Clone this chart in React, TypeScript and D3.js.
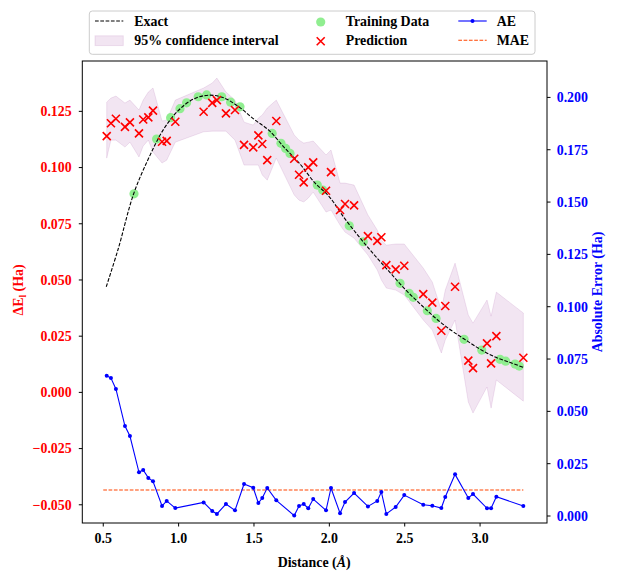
import React from "react";
import * as d3 from "d3";

// prediction grid (Å)
const distance = [
    0.523, 0.551, 0.584, 0.644, 0.677, 0.737, 0.765, 0.799, 0.830, 0.890,
    0.921, 0.978, 1.166, 1.223, 1.254, 1.314, 1.374, 1.434, 1.495, 1.529,
    1.555, 1.588, 1.648, 1.767, 1.799, 1.830, 1.860, 1.893, 1.978, 2.011,
    2.071, 2.104, 2.164, 2.256, 2.318, 2.345, 2.378, 2.440, 2.497, 2.623,
    2.683, 2.743, 2.769, 2.834, 2.922, 2.953, 3.046, 3.073, 3.108, 3.287
];

const prediction = [
    0.1140, 0.1197, 0.1217, 0.1181, 0.1201, 0.1152, 0.1214, 0.1223, 0.1253, 0.1115,
    0.1119, 0.1204, 0.1248, 0.1288, 0.1300, 0.1241, 0.1256, 0.1101, 0.1090, 0.1143,
    0.1105, 0.1033, 0.1207, 0.1039, 0.0968, 0.0934, 0.1001, 0.1023, 0.0897, 0.0980,
    0.0811, 0.0838, 0.0832, 0.0695, 0.0674, 0.0690, 0.0566, 0.0547, 0.0563, 0.0437,
    0.0399, 0.0274, 0.0384, 0.0470, 0.0141, 0.0108, 0.0218, 0.0129, 0.0250, 0.0154
];

const ciUpper = [
    0.1291, 0.1309, 0.1318, 0.1287, 0.1300, 0.1256, 0.1300, 0.1336, 0.1354, 0.1207,
    0.1211, 0.1300, 0.1354, 0.1376, 0.1398, 0.1336, 0.1300, 0.1202, 0.1189, 0.1220,
    0.1234, 0.1265, 0.1300, 0.1145, 0.1122, 0.1109, 0.1113, 0.1118, 0.1056, 0.1078,
    0.0931, 0.0931, 0.0922, 0.0789, 0.0722, 0.0677, 0.0655, 0.0660, 0.0660, 0.0553,
    0.0491, 0.0366, 0.0455, 0.0575, 0.0344, 0.0308, 0.0411, 0.0339, 0.0446, 0.0353
];

const ciLower = [
    0.1042, 0.1122, 0.1122, 0.1091, 0.1113, 0.1047, 0.1096, 0.1122, 0.1069, 0.1020,
    0.1033, 0.1113, 0.1159, 0.1162, 0.1162, 0.1162, 0.1122, 0.1011, 0.1011, 0.1011,
    0.0967, 0.0944, 0.1042, 0.0878, 0.0855, 0.0847, 0.0864, 0.0891, 0.0802, 0.0811,
    0.0744, 0.0713, 0.0686, 0.0611, 0.0544, 0.0500, 0.0464, 0.0455, 0.0433, 0.0322,
    0.0277, 0.0175, 0.0233, 0.0322, -0.0043, -0.0092, 0.0024, -0.0070, 0.0055, -0.0039
];

const absError = [
    0.0670, 0.0659, 0.0607, 0.0430, 0.0382, 0.0209, 0.0220, 0.0182, 0.0166, 0.0048,
    0.0072, 0.0038, 0.0065, 0.0024, 0.0010, 0.0057, 0.0027, 0.0153, 0.0135, 0.0062,
    0.0086, 0.0134, 0.0075, 0.0002, 0.0048, 0.0057, 0.0037, 0.0081, 0.0027, 0.0134,
    0.0013, 0.0067, 0.0110, 0.0046, 0.0072, 0.0115, 0.0010, 0.0043, 0.0100, 0.0054,
    0.0049, 0.0038, 0.0091, 0.0199, 0.0086, 0.0105, 0.0037, 0.0037, 0.0092, 0.0048
];

const trainX = [
    0.704, 0.854, 0.947, 1.009, 1.053, 1.130, 1.186, 1.286, 1.345, 1.407,
    1.621, 1.679, 1.710, 1.739, 1.920, 1.956, 2.132, 2.225, 2.469, 2.530,
    2.557, 2.650, 2.708, 2.894, 3.011, 3.132, 3.170, 3.232, 3.260
];
const trainY = [
    0.0883, 0.1127, 0.1222, 0.1262, 0.1288, 0.1315, 0.1323, 0.1315, 0.1291, 0.1270,
    0.1152, 0.1108, 0.1085, 0.1063, 0.0922, 0.0900, 0.0741, 0.0670, 0.0485, 0.0440,
    0.0423, 0.0363, 0.0329, 0.0236, 0.0188, 0.0147, 0.0139, 0.0126, 0.0117
];

const exactX = [
    0.52, 0.60, 0.70, 0.80, 0.90, 1.00, 1.10, 1.20, 1.30, 1.40, 1.50, 1.60, 1.70, 1.80, 1.90,
    2.00, 2.10, 2.20, 2.30, 2.40, 2.50, 2.60, 2.70, 2.80, 2.90, 3.00, 3.10, 3.20, 3.29
];
const exactY = [
    0.0470, 0.0640, 0.0880, 0.1040, 0.1170, 0.1255, 0.1305, 0.1322, 0.1310, 0.1270, 0.1215,
    0.1165, 0.1090, 0.1020, 0.0935, 0.0870, 0.0775, 0.0690, 0.0610, 0.0535, 0.0460, 0.0395,
    0.0333, 0.0280, 0.0235, 0.0192, 0.0157, 0.0133, 0.0110
];

const mae = 0.0124;
const maeSpan = [0.5, 3.287];

const xTicks = [0.5, 1.0, 1.5, 2.0, 2.5, 3.0];
const leftTicks = [-0.05, -0.025, 0, 0.025, 0.05, 0.075, 0.1, 0.125];
const rightTicks = [0, 0.025, 0.05, 0.075, 0.1, 0.125, 0.15, 0.175, 0.2];

const W = 617;
const H = 581;
const box = { left: 82.3, right: 547, top: 61, bottom: 523 };
const FONT = "'Liberation Serif', 'Times New Roman', serif";
const FS = 13.9;

const x = d3.scaleLinear().domain([0.361, 3.444]).range([box.left, box.right]);
const yL = d3.scaleLinear().domain([-0.0581, 0.1474]).range([box.bottom, box.top]);
const yR = d3.scaleLinear().domain([-0.00334, 0.2174]).range([box.bottom, box.top]);

const fmt1 = d3.format(".1f");
const fmt3 = d3.format(".3f");

const crossPath = (s: number) => `M${-s},${-s}L${s},${s}M${-s},${s}L${s},${-s}`;

export default function App() {
    const idx = distance.map((_, i) => i);

    const band = d3.area<number>()
        .x(i => x(distance[i]))
        .y0(i => yL(ciLower[i]))
        .y1(i => yL(ciUpper[i]))(idx) as string;

    const exactLine = d3.line<number>()
        .x(i => x(exactX[i]))
        .y(i => yL(exactY[i]))
        .curve(d3.curveCatmullRom)(exactX.map((_, i) => i)) as string;

    const aeLine = d3.line<number>()
        .x(i => x(distance[i]))
        .y(i => yR(absError[i]))(idx) as string;

    return (
        <svg width={W} height={H} style={{ position: "absolute", left: 0, top: 0, background: "#fff" }}
            fontFamily={FONT} fontWeight="bold" fontSize={FS}>
            <defs>
                <clipPath id="plot-clip">
                    <rect x={box.left} y={box.top} width={box.right - box.left} height={box.bottom - box.top} />
                </clipPath>
            </defs>

            <g clipPath="url(#plot-clip)">
                <path d={band} fill="purple" fillOpacity={0.1} stroke="purple" strokeOpacity={0.1} strokeWidth={1} />
                {trainX.map((d, i) => (
                    <circle key={"t" + i} cx={x(d)} cy={yL(trainY[i])} r={4.6} fill="#90ee90" />
                ))}
                <path d={exactLine} fill="none" stroke="#000" strokeWidth={1.1} strokeDasharray="3.7,1.6" />
                {distance.map((d, i) => (
                    <path key={"p" + i} d={crossPath(4)} transform={`translate(${x(d)},${yL(prediction[i])})`}
                        stroke="red" strokeWidth={1.6} fill="none" />
                ))}
                <line x1={x(maeSpan[0])} x2={x(maeSpan[1])} y1={yR(mae)} y2={yR(mae)}
                    stroke="orangered" strokeWidth={1.1} strokeDasharray="3.7,1.6" />
                <path d={aeLine} fill="none" stroke="blue" strokeWidth={1.1} />
                {distance.map((d, i) => (
                    <circle key={"a" + i} cx={x(d)} cy={yR(absError[i])} r={2} fill="blue" />
                ))}
            </g>

            <rect x={box.left} y={box.top} width={box.right - box.left} height={box.bottom - box.top}
                fill="none" stroke="#000" strokeWidth={1} />

            {/* bottom axis */}
            {xTicks.map(t => (
                <g key={"xt" + t} transform={`translate(${x(t)},${box.bottom})`}>
                    <line y2={3.5} stroke="#000" />
                    <text y={15.3} dy="0.35em" textAnchor="middle" fill="#000">{fmt1(t)}</text>
                </g>
            ))}
            <text x={(box.left + box.right) / 2 - 0.5} y={561.7} dy="0.35em" textAnchor="middle" fill="#000">
                Distance (<tspan fontStyle="italic">Å</tspan>)
            </text>

            {/* left axis */}
            {leftTicks.map(t => (
                <g key={"yl" + t} transform={`translate(${box.left},${yL(t)})`}>
                    <line x2={-3.5} stroke="#000" />
                    <text x={-10.6} dy="0.35em" textAnchor="end" fill="red">{fmt3(t)}</text>
                </g>
            ))}
            <text transform={`translate(18,290) rotate(-90)`} dy="0.35em" textAnchor="middle" fill="red">
                ΔE<tspan fontSize={FS * 0.7} dy="3">l</tspan><tspan dy="-3"> (Ha)</tspan>
            </text>

            {/* right axis */}
            {rightTicks.map(t => (
                <g key={"yr" + t} transform={`translate(${box.right},${yR(t)})`}>
                    <line x2={3.5} stroke="#000" />
                    <text x={9.7} dy="0.35em" textAnchor="start" fill="blue">{fmt3(t)}</text>
                </g>
            ))}
            <text transform={`translate(596.7,292) rotate(-90)`} dy="0.35em" textAnchor="middle" fill="blue">
                Absolute Error (Ha)
            </text>

            {/* legend */}
            <g>
                <rect x={89.3} y={11} width={445.7} height={43.3} rx={3} fill="#fff" fillOpacity={0.8}
                    stroke="#cccccc" strokeWidth={1} />
                <line x1={95} x2={123.3} y1={21} y2={21} stroke="#000" strokeWidth={1.1} strokeDasharray="3.7,1.6" />
                <text x={134.3} y={21} dy="0.35em">Exact</text>
                <rect x={95} y={35.8} width={28.3} height={9.8} fill="purple" fillOpacity={0.1}
                    stroke="purple" strokeOpacity={0.1} />
                <text x={134.3} y={40.3} dy="0.35em">95% confidence interval</text>

                <circle cx={320.7} cy={22} r={4.6} fill="#90ee90" />
                <text x={345.7} y={21} dy="0.35em">Training Data</text>
                <path d={crossPath(4)} transform="translate(320.7,41.3)" stroke="red" strokeWidth={1.6} fill="none" />
                <text x={345.7} y={40.3} dy="0.35em">Prediction</text>

                <line x1={458.3} x2={486.7} y1={21} y2={21} stroke="blue" strokeWidth={1.1} />
                <circle cx={472.5} cy={21} r={2} fill="blue" />
                <text x={496.7} y={21} dy="0.35em">AE</text>
                <line x1={458.3} x2={486.7} y1={40.3} y2={40.3} stroke="orangered" strokeWidth={1.1}
                    strokeDasharray="3.7,1.6" />
                <text x={496.7} y={40.3} dy="0.35em">MAE</text>
            </g>
        </svg>
    );
}
